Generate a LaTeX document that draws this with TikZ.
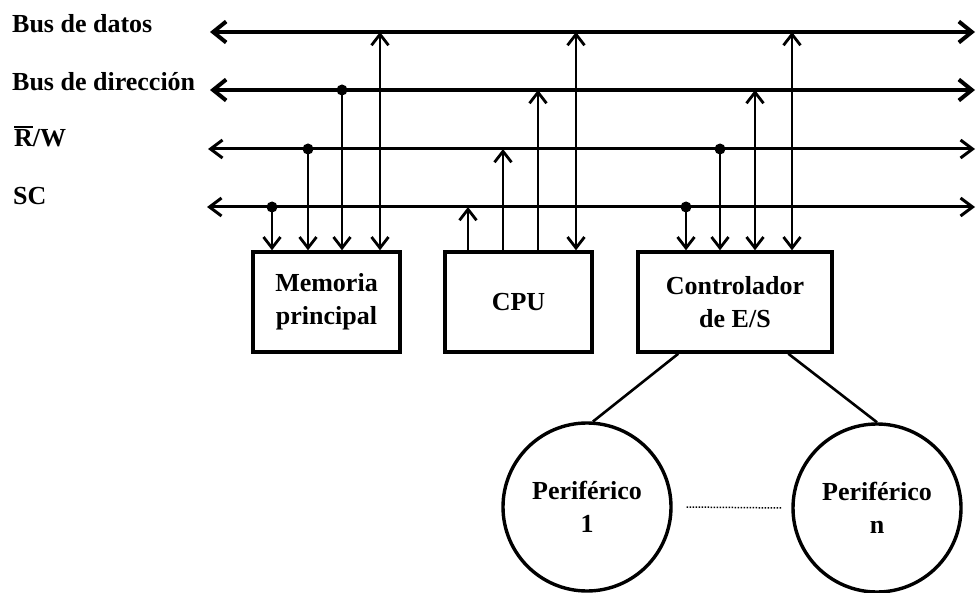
\documentclass[tikz,border=0pt]{standalone}
\usepackage{fontspec}
\setmainfont{Liberation Serif}
\usetikzlibrary{arrows.meta,calc}
% letter with a bar drawn over it
\newcommand{\barletter}[1]{{\setbox0\hbox{#1}\rlap{\raisebox{\dimexpr\ht0+2pt\relax}{\rule{\wd0}{1.8pt}}}\box0}}
\begin{document}
\begin{tikzpicture}[x=1pt,y=-1pt,
  txt/.style={font=\bfseries\fontsize{26}{33}\selectfont},
  lbl/.style={txt, inner sep=0pt, anchor=base west},
  bigtip/.tip={Straight Barb[length=13pt,width=21pt]},
  smalltip/.tip={Straight Barb[length=12pt,width=18pt]},
  taptip/.tip={Straight Barb[length=11pt,width=17pt]},
  mainbus/.style={line width=4pt, bigtip-bigtip},
  ctlbus/.style={line width=3pt, smalltip-smalltip},
  tap/.style={line width=2.8pt},
  down/.style={tap, -taptip},
  up/.style={tap, -taptip},
  both/.style={tap, taptip-taptip},
  dot/.style={circle, fill, inner sep=0pt, minimum size=11pt},
  unit/.style={draw, line width=3.4pt, inner sep=0pt, align=center, txt},
  periph/.style={draw, circle, line width=3.4pt, inner sep=0pt, minimum size=168pt, align=center, txt},
  link/.style={line width=2.6pt}
]
\useasboundingbox (0,0) rectangle (976,593);

% bus labels
\node[lbl] (ldat) at (12,33) {Bus de datos};
\node[lbl] (ldir) at (12,91) {Bus de dirección};
\node[lbl] (lrw)  at (14,147) {\barletter{R}/W};
\node[lbl] (lsc)  at (13,205) {SC};

% bus ends
\coordinate (datL) at (210,32);  \coordinate (datR) at (975,32);
\coordinate (dirL) at (210,90);  \coordinate (dirR) at (975,90);
\coordinate (rwL)  at (208,149); \coordinate (rwR)  at (975,149);
\coordinate (scL)  at (207,207); \coordinate (scR)  at (975,207);

\draw[mainbus] (datL) -- (datR);
\draw[mainbus] (dirL) -- (dirR);
\draw[ctlbus]  (rwL) -- (rwR);
\draw[ctlbus]  (scL) -- (scR);

% units
\node[unit, minimum width=147pt, minimum height=100pt] (mem) at (326.5,302) {Memoria\\principal};
\node[unit, minimum width=147pt, minimum height=100pt] (cpu) at (518.5,302) {CPU};
\node[unit, minimum width=194pt, minimum height=100pt] (ctl) at (735,302) {Controlador\\de E/S};

% main memory taps
\coordinate (m1) at (272,207);
\coordinate (m2) at (308,149);
\coordinate (m3) at (342,90);
\coordinate (m4) at (380,32);
\draw[down] (m1) -- (m1 |- mem.north);
\draw[down] (m2) -- (m2 |- mem.north);
\draw[down] (m3) -- (m3 |- mem.north);
\draw[both] (m4) -- (m4 |- mem.north);

% CPU taps
\coordinate (c1) at (468,207);
\coordinate (c2) at (503,149);
\coordinate (c3) at (538,90);
\coordinate (c4) at (576,32);
\draw[up] (c1 |- cpu.north) -- (c1);
\draw[up] (c2 |- cpu.north) -- (c2);
\draw[up] (c3 |- cpu.north) -- (c3);
\draw[both] (c4) -- (c4 |- cpu.north);

% I/O controller taps
\coordinate (k1) at (686,207);
\coordinate (k2) at (720,149);
\coordinate (k3) at (755,90);
\coordinate (k4) at (792,32);
\draw[down] (k1) -- (k1 |- ctl.north);
\draw[down] (k2) -- (k2 |- ctl.north);
\draw[both] (k3) -- (k3 |- ctl.north);
\draw[both] (k4) -- (k4 |- ctl.north);

% junction dots
\node[dot] (dm1) at (m1) {};
\node[dot] (dm2) at (m2) {};
\node[dot] (dm3) at (m3) {};
\node[dot] (dk1) at (k1) {};
\node[dot] (dk2) at (k2) {};

% peripherals
\node[periph] (p1) at (587,507) {Periférico\\1};
\node[periph] (pn) at (877,508) {Periférico\\n};
\draw[link] ($(ctl.south west)+(42,0)$) -- (p1.86);
\draw[link] ($(ctl.south west)+(152,0)$) -- (pn.90);
\draw[line width=1.5pt, dash pattern=on 1.5pt off 1.5pt] ([xshift=14pt]p1.east) -- ([xshift=-9pt]pn.west);
\end{tikzpicture}
\end{document}
